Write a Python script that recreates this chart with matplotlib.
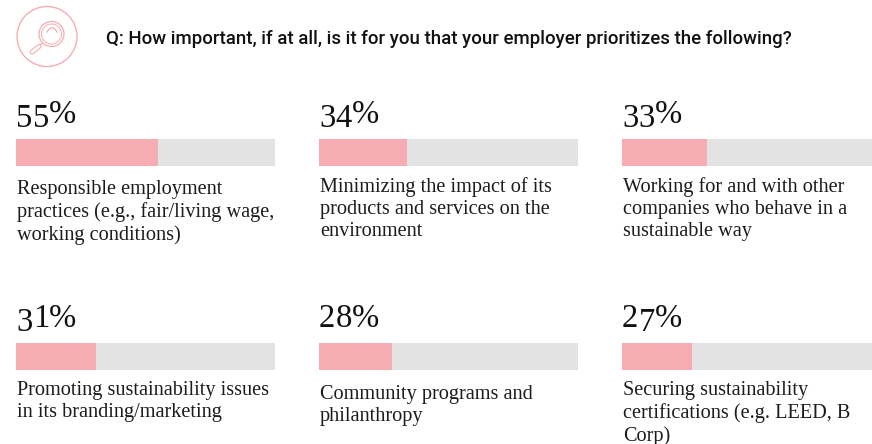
import matplotlib
matplotlib.use("Agg")
import matplotlib.pyplot as plt
from matplotlib.patches import Circle

question = "Q: How important, if at all, is it for you that your employer prioritizes the following?"
values = [55, 34, 33, 31, 28, 27]
labels = [
    "Responsible employment\npractices (e.g., fair/living wage,\nworking conditions)",
    "Minimizing the impact of its\nproducts and services on the\nenvironment",
    "Working for and with other\ncompanies who behave in a\nsustainable way",
    "Promoting sustainability issues\nin its branding/marketing",
    "Community programs and\nphilanthropy",
    "Securing sustainability\ncertifications (e.g. LEED, B\nCorp)",
]

W, H = 872, 444
PINK = "#f5adb3"
GREY = "#e3e3e3"
SERIF = "Liberation Serif"

# x of each column, y of each bar, y of the first text line, all in pixels
colX = [16, 319, 622]
barY = [139, 139, 139, 343, 343, 343]
textY = [180, 177, 177, 381, 385, 381]
barW, barH = 259, 27

# the reference face has old style figures, these digits hang below the line
HANGING = "34579"
DIGIT_W = 16.8
DIGIT_DROP = 4.5


def drawPercent(page, x, y, value):
    for ch in str(value):
        drop = DIGIT_DROP if ch in HANGING else 0
        page.text(x, y + drop, ch, fontsize=23.5, family=SERIF, color="#111111",
                  ha="left", va="baseline")
        x += DIGIT_W
    page.text(x - 1, y, "%", fontsize=23.5, family=SERIF, color="#111111",
              ha="left", va="baseline")


fig = plt.figure(figsize=(W / 100, H / 100), dpi=100, facecolor="white")

# overlay in pixel coordinates for text and icon
page = fig.add_axes([0, 0, 1, 1])
page.set_xlim(0, W)
page.set_ylim(H, 0)
page.axis("off")

for i, (value, label) in enumerate(zip(values, labels)):
    x = colX[i % 3]
    y = barY[i]
    ax = fig.add_axes([x / W, 1 - (y + barH) / H, barW / W, barH / H])
    ax.barh([0], [100], height=1, color=GREY)
    ax.barh([0], [value], height=1, color=PINK)
    ax.set_xlim(0, 100)
    ax.set_ylim(-0.5, 0.5)
    ax.axis("off")
    drawPercent(page, x, y - 16.5, value)
    page.text(x + 1, textY[i], label, fontsize=14.6, family=SERIF, color="#1c1c1c",
              ha="left", va="top", linespacing=1.2)

page.text(106, 39, question, fontsize=13.46, family="Roboto", weight="medium",
          color="#111111", ha="left", va="center")

# magnifying glass icon
page.add_patch(Circle((47, 36.5), 30, fill=False, ec=PINK, lw=1))
page.add_patch(Circle((51.5, 34), 12.5, fill=False, ec=PINK, lw=0.9))
page.add_patch(Circle((51.5, 34), 10, fill=False, ec=PINK, lw=0.7))
page.plot([42.5, 40], [43, 45.5], color=PINK, lw=1)
page.plot([39, 32], [46.5, 52], color=PINK, lw=3.6, solid_capstyle="round")
page.plot([39, 32], [46.5, 52], color="white", lw=2, solid_capstyle="round")
page.plot([47, 49, 52, 55, 57], [32, 29, 27.5, 29, 32], color=PINK, lw=0.9)

fig.savefig("out.png", dpi=100)
